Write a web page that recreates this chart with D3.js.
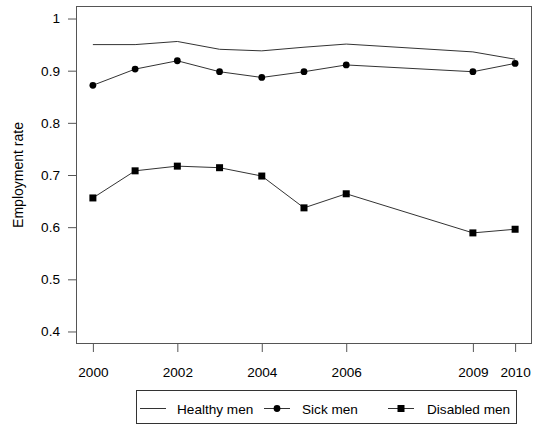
<!DOCTYPE html>
<html><head><meta charset="utf-8">
<script src="https://cdn.jsdelivr.net/npm/d3@7"></script>
<style>body{margin:0;background:#fff}svg{display:block}text{font-family:"Liberation Sans",Arial,sans-serif;fill:#000}</style>
</head><body><svg id="c" width="534" height="425"></svg>
<script>
const years = [2000, 2001, 2002, 2003, 2004, 2005, 2006, 2009, 2010];
const healthy = [0.950, 0.950, 0.956, 0.941, 0.938, 0.945, 0.951, 0.936, 0.922];
const sick = [0.872, 0.903, 0.919, 0.898, 0.887, 0.898, 0.911, 0.898, 0.914];
const disabled = [0.656, 0.708, 0.717, 0.714, 0.698, 0.637, 0.664, 0.589, 0.596];
const xTicks = [2000, 2002, 2004, 2006, 2009, 2010];
const yTicks = [0.4, 0.5, 0.6, 0.7, 0.8, 0.9, 1];
const yTickLabels = ["0.4", "0.5", "0.6", "0.7", "0.8", "0.9", "1"];
const legendLabels = ["Healthy men", "Sick men", "Disabled men"];

const svg = d3.select("#c");
const L = 76, R = 532, T = 6, B = 344;
const x = d3.scaleLinear().domain([1999.6, 2010.4]).range([L, R]);
const y = d3.scaleLinear().domain([0.376, 1.024]).range([B, T]);
const col = "#333";
const fs = 13.6;

svg.append("rect").attr("x", L + 0.5).attr("y", T + 0.5).attr("width", R - L - 1).attr("height", B - T - 1)
  .attr("fill", "none").attr("stroke", "#555").attr("stroke-width", 1);

const xa = svg.append("g").attr("transform", `translate(0,${B})`)
  .call(d3.axisBottom(x).tickValues(xTicks).tickFormat(d3.format("d")).tickSize(8).tickPadding(15));
xa.select(".domain").remove();
xa.selectAll("line").attr("stroke", "#555");
xa.selectAll("text").attr("font-size", fs).attr("fill", "#000");

const ya = svg.append("g").attr("transform", `translate(${L},0)`)
  .call(d3.axisLeft(y).tickValues(yTicks).tickFormat((d, i) => yTickLabels[i]).tickSize(8).tickPadding(8));
ya.select(".domain").remove();
ya.selectAll("line").attr("stroke", "#555");
ya.selectAll("text").attr("font-size", fs).attr("fill", "#000");

svg.append("text").attr("transform", `translate(23,${(T + B) / 2}) rotate(-90)`)
  .attr("text-anchor", "middle").attr("font-size", 14).text("Employment rate");

const line = d3.line().x((d, i) => x(years[i])).y(d => y(d));
[healthy, sick, disabled].forEach(s => {
  svg.append("path").datum(s).attr("d", line).attr("fill", "none").attr("stroke", col).attr("stroke-width", 1);
});
svg.selectAll(".pt").data(sick).enter().append("circle")
  .attr("cx", (d, i) => x(years[i])).attr("cy", d => y(d)).attr("r", 3.4).attr("fill", "#000");
svg.selectAll(".sq").data(disabled).enter().append("rect")
  .attr("x", (d, i) => x(years[i]) - 3.5).attr("y", d => y(d) - 3.5).attr("width", 7).attr("height", 7).attr("fill", "#000");

// legend
const lg = svg.append("g");
lg.append("rect").attr("x", 136.5).attr("y", 390.5).attr("width", 380).attr("height", 33)
  .attr("fill", "#fff").attr("stroke", "#333");
const ly = 408.5;
const items = [{x0: 140, tx: 177}, {x0: 264, tx: 302}, {x0: 388, tx: 427}];
items.forEach((it, i) => {
  lg.append("line").attr("x1", it.x0).attr("x2", it.x0 + 26).attr("y1", ly).attr("y2", ly).attr("stroke", col);
  if (i === 1) lg.append("circle").attr("cx", it.x0 + 13).attr("cy", ly).attr("r", 3.4).attr("fill", "#000");
  if (i === 2) lg.append("rect").attr("x", it.x0 + 9.5).attr("y", ly - 3.5).attr("width", 7).attr("height", 7).attr("fill", "#000");
  lg.append("text").attr("x", it.tx).attr("y", ly + 5).attr("font-size", fs).text(legendLabels[i]);
});
</script></body></html>
